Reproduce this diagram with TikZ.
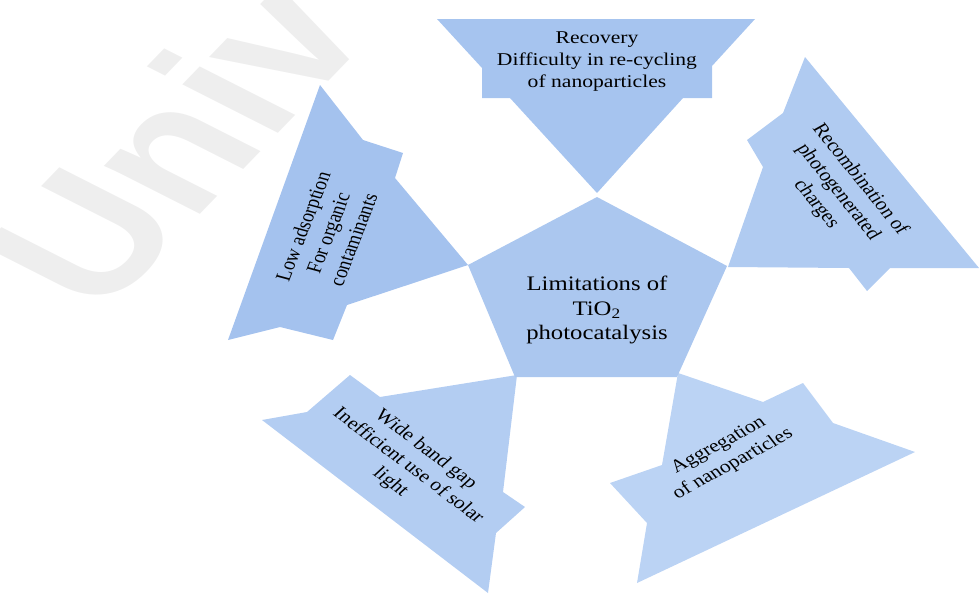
\documentclass[tikz,border=0pt]{standalone}
\usepackage{fontspec}
\setmainfont{Liberation Serif}
\setsansfont{Liberation Sans}
\definecolor{recoveryblue}{HTML}{A6C4EF}
\definecolor{adsorbblue}{HTML}{A4C2EE}
\definecolor{recombblue}{HTML}{B0CBF1}
\definecolor{gapblue}{HTML}{B3CDF2}
\definecolor{aggrblue}{HTML}{BBD3F4}
\definecolor{coreblue}{HTML}{ABC7EF}
\definecolor{markgray}{HTML}{EEEEEE}
\tikzset{%
    piece/.style={fill=#1},
    piece text/.style={xscale=0.87, align=center, inner sep=0pt, text=black, font=\fontsize{9}{11}\selectfont},
    core text/.style={xscale=0.87, align=center, inner sep=0pt, text=black, font=\fontsize{10.3}{12.25}\selectfont},
    watermark text/.style={inner sep=0pt, text=markgray, font=\fontsize{80}{80}\sffamily\bfseries}
}

\begin{document}
\begin{tikzpicture}[x=0.36232pt, y=-0.5pt, xscale=1.38, every node/.append style={transform shape}]
    \useasboundingbox (0,0) rectangle (979,595);
    \clip (0,0) rectangle (979,595);
    % watermark
    \node[watermark text, rotate=55, anchor=base west] (mark) at (100,318) {Univ};
    % five pieces round the core
    \fill[piece=recoveryblue] (437,19) -- (755,19) -- (712,66) -- (712,98) -- (683,98) -- (597,193) -- (510,98) -- (482,98) -- (482,68) -- cycle;
    \fill[piece=adsorbblue] (320,85) -- (363,140) -- (403,153) -- (395,178) -- (468,265) -- (347,305) -- (333,340) -- (280,327) -- (228,340) -- cycle;
    \fill[piece=recombblue] (805,57) -- (979,268) -- (890,268) -- (867,291) -- (849,268) -- (728,267) -- (763,167) -- (747,140) -- (783,113) -- cycle;
    \fill[piece=gapblue] (517,375) -- (380,397) -- (350,375) -- (307,412) -- (262,420) -- (488,593) -- (496,533) -- (525,507) -- (503,492) -- cycle;
    \fill[piece=aggrblue] (678,373) -- (763,402) -- (803,383) -- (833,423) -- (915,452) -- (637,583) -- (647,523) -- (610,483) -- (662,465) -- cycle;
    \fill[piece=coreblue] (597,197) -- (727,266) -- (677,377) -- (515,377) -- (468,265) -- cycle;
    % texts
    \node[core text] (core) at (597,310) {Limitations of\\TiO\textsubscript{2}\\photocatalysis};
    \node[piece text] (recovery) at (597,62) {Recovery\\Difficulty in re-cycling\\of nanoparticles};
    \node[piece text, rotate=72] (adsorption) at (328,233) {Low adsorption\\For organic\\contaminants};
    \node[piece text, rotate=-56] (recombination) at (838,192) {Recombination of\\photogenerated\\charges};
    \node[piece text, rotate=-42] (bandgap) at (408,466) {Wide band gap\\Inefficient use of solar\\light};
    \node[piece text, rotate=33] (aggregation) at (726,455) {Aggregation\\of nanoparticles};
\end{tikzpicture}
\end{document}
